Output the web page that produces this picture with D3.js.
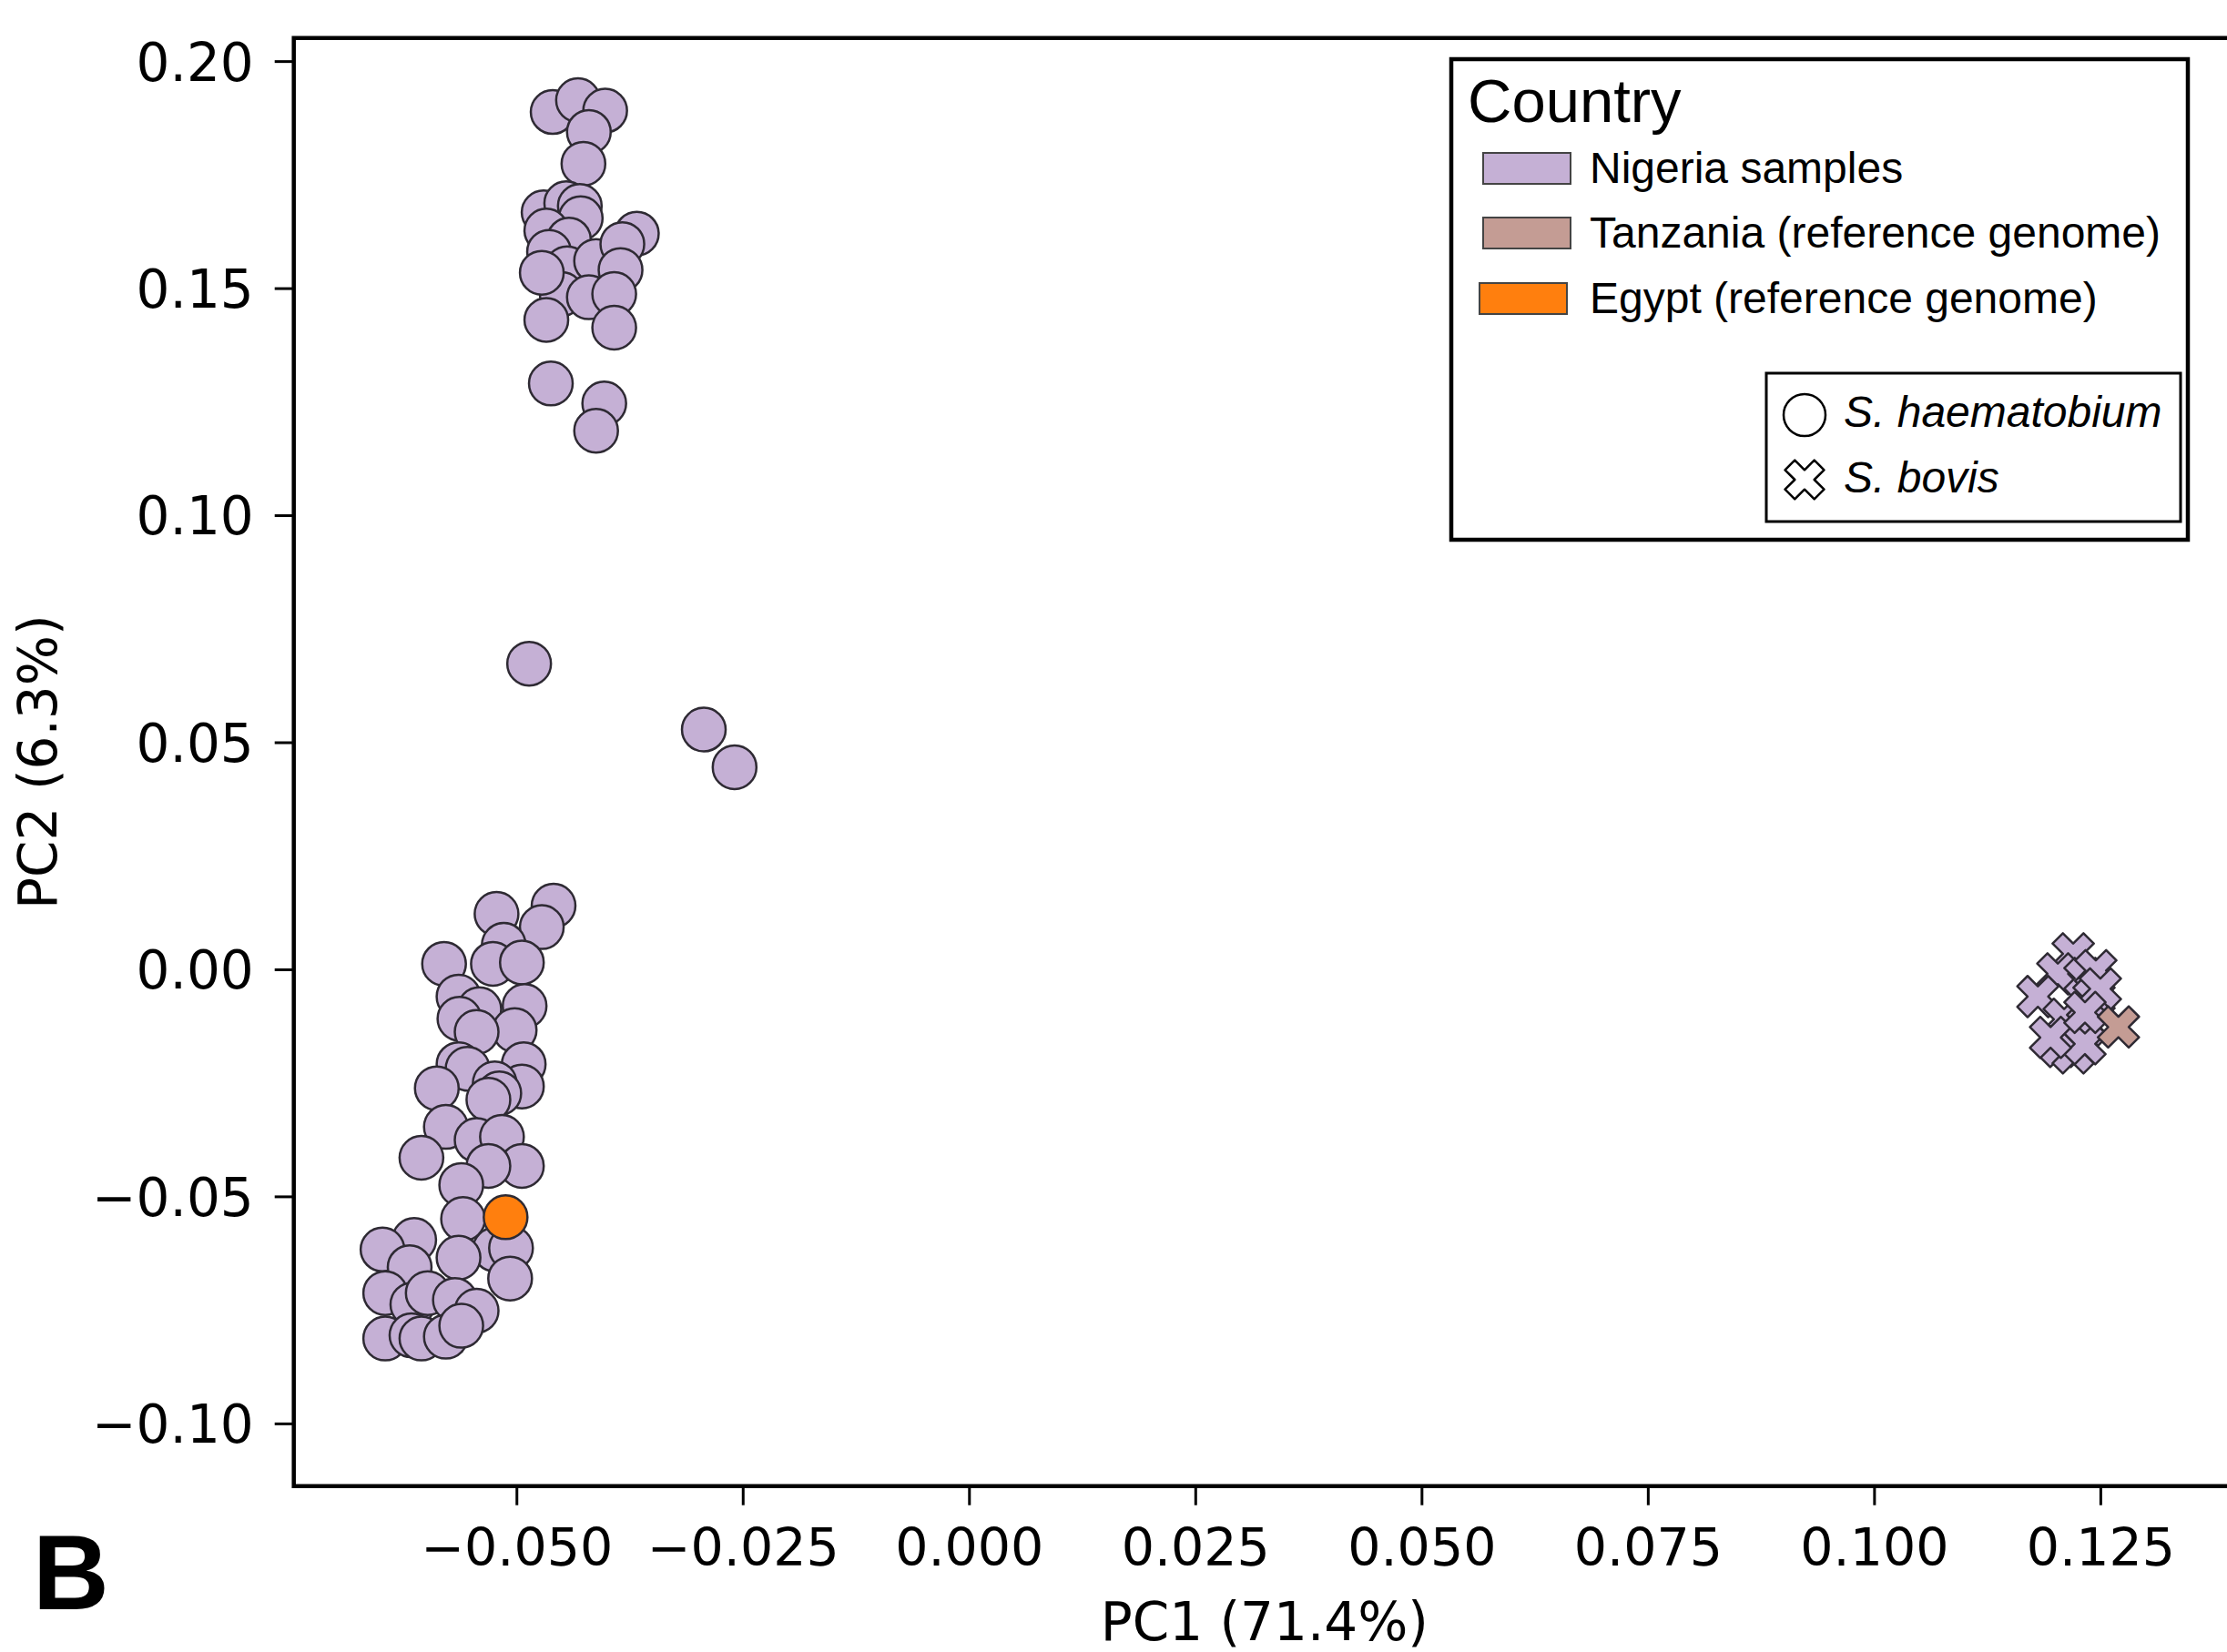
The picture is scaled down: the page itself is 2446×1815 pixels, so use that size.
<!DOCTYPE html>
<html>
<head>
<meta charset="utf-8">
<script src="https://cdn.jsdelivr.net/npm/d3@7"></script>
<style>
  html, body { margin: 0; padding: 0; background: #fff; }
  svg { display: block; }
</style>
</head>
<body>
<div id="chart"></div>
<script>
// PCA values
// Nigeria samples, S. haematobium (circles)
var nigeriaHaemPC1 = [
  -0.0460, -0.0432, -0.0402, -0.0420, -0.0426, -0.0470, -0.0445, -0.0430, -0.0429, -0.0467,
  -0.0442, -0.0464, -0.0444, -0.0412, -0.0367, -0.0383, -0.0385, -0.0450, -0.0420, -0.0392,
  -0.0467, -0.0392, -0.0462, -0.0403, -0.0412, -0.0472,
  -0.0486, -0.0293, -0.0259,
  -0.0459, -0.0472, -0.0522, -0.0514, -0.0526, -0.0494, -0.0580, -0.0564, -0.0541, -0.0563,
  -0.0491, -0.0502, -0.0544, -0.0564, -0.0554, -0.0492, -0.0494, -0.0524, -0.0588, -0.0519,
  -0.0531, -0.0578, -0.0544, -0.0516, -0.0605, -0.0494, -0.0531, -0.0561, -0.0559, -0.0524,
  -0.0506, -0.0564, -0.0507, -0.0613, -0.0648, -0.0618, -0.0645, -0.0615, -0.0598, -0.0568,
  -0.0544, -0.0645, -0.0616, -0.0605, -0.0578, -0.0561
];
var nigeriaHaemPC2 = [
  0.1888, 0.1914, 0.1891, 0.1844, 0.1774, 0.1667, 0.1687, 0.1681, 0.1654, 0.1627,
  0.1607, 0.1580, 0.1544, 0.1560, 0.1620, 0.1597, 0.1540, 0.1487, 0.1480, 0.1487,
  0.1430, 0.1413, 0.1290, 0.1246, 0.1186, 0.1534,
  0.0673, 0.0528, 0.0445,
  0.0140, 0.0093, 0.0122, 0.0054, 0.0012, 0.0015, 0.0012, -0.0060, -0.0088, -0.0109,
  -0.0081, -0.0134, -0.0138, -0.0209, -0.0219, -0.0209, -0.0258, -0.0251, -0.0262, -0.0273,
  -0.0287, -0.0347, -0.0376, -0.0369, -0.0415, -0.0433, -0.0433, -0.0475, -0.0550, -0.0617,
  -0.0614, -0.0635, -0.0681, -0.0596, -0.0617, -0.0656, -0.0713, -0.0738, -0.0713, -0.0728,
  -0.0752, -0.0813, -0.0806, -0.0813, -0.0809, -0.0785
];
// Nigeria samples, S. bovis (crosses)
var nigeriaBovisPC1 = [0.1220, 0.1203, 0.1181, 0.1233, 0.1245, 0.1243, 0.1210, 0.1236, 0.1206, 0.1220, 0.1233, 0.1195, 0.1250, 0.1233];
var nigeriaBovisPC2 = [0.0034, -0.0010, -0.0060, -0.0020, -0.0003, -0.0063, -0.0110, -0.0123, -0.0170, -0.0184, -0.0164, -0.0150, -0.0043, -0.0095];
// reference genomes
var tanzaniaPC1 = [0.1270];
var tanzaniaPC2 = [-0.0127];
var egyptPC1 = [-0.0512];
var egyptPC2 = [-0.0546];

var xTicks = [-0.050, -0.025, 0.000, 0.025, 0.050, 0.075, 0.100, 0.125];
var yTicks = [-0.10, -0.05, 0.00, 0.05, 0.10, 0.15, 0.20];

var countryNames = ["Nigeria samples", "Tanzania (reference genome)", "Egypt (reference genome)"];
var countryColors = ["#c5b0d5", "#c49c94", "#ff7f0e"];
var speciesNames = ["S. haematobium", "S. bovis"];

var width = 2446, height = 1815;
var plotLeft = 322.7, plotRight = 2455, plotTop = 41.7, plotBottom = 1632.7;

var svg = d3.select("#chart").append("svg")
    .attr("width", width)
    .attr("height", height);

var x = d3.scaleLinear().domain([-0.0746, 0.1399]).range([plotLeft, plotRight]);
var y = d3.scaleLinear().domain([-0.1138, 0.2051]).range([plotBottom, plotTop]);

var tickFont = "'DejaVu Sans', Verdana, sans-serif";
var legendFont = "'Liberation Sans', Arial, sans-serif";
var edge = "#2e2a33";

// points
var plot = svg.append("g");
var cross = d3.symbol(d3.symbolCross, 1280);

function circles(xs, ys, color) {
  plot.selectAll(null)
    .data(d3.zip(xs, ys))
    .enter().append("circle")
    .attr("cx", function(d) { return x(d[0]); })
    .attr("cy", function(d) { return y(d[1]); })
    .attr("r", 24)
    .attr("fill", color)
    .attr("stroke", edge)
    .attr("stroke-width", 2.5);
}
function crosses(xs, ys, color) {
  plot.selectAll(null)
    .data(d3.zip(xs, ys))
    .enter().append("path")
    .attr("d", cross)
    .attr("transform", function(d) { return "translate(" + x(d[0]) + "," + y(d[1]) + ") rotate(45)"; })
    .attr("fill", color)
    .attr("stroke", edge)
    .attr("stroke-width", 2.5)
    .attr("stroke-linejoin", "round");
}

circles(nigeriaHaemPC1, nigeriaHaemPC2, countryColors[0]);
crosses(nigeriaBovisPC1, nigeriaBovisPC2, countryColors[0]);
crosses(tanzaniaPC1, tanzaniaPC2, countryColors[1]);
circles(egyptPC1, egyptPC2, countryColors[2]);

// axes
var xAxis = svg.append("g")
    .attr("transform", "translate(0," + plotBottom + ")")
    .call(d3.axisBottom(x).tickValues(xTicks).tickFormat(d3.format(".3f")).tickSize(21).tickPadding(26));
var yAxis = svg.append("g")
    .attr("transform", "translate(" + plotLeft + ",0)")
    .call(d3.axisLeft(y).tickValues(yTicks).tickFormat(d3.format(".2f")).tickSize(21).tickPadding(23));

[xAxis, yAxis].forEach(function(a) {
  a.select(".domain").remove();
  a.selectAll(".tick line").attr("stroke", "#000").attr("stroke-width", 3);
  a.selectAll(".tick text")
    .attr("font-family", tickFont)
    .attr("font-size", 57)
    .attr("fill", "#000");
});
xAxis.selectAll(".tick text").attr("dy", "0.71em");
yAxis.selectAll(".tick text").attr("dy", "0.36em").attr("font-size", 58);

// frame (right side falls outside the picture)
svg.append("path")
    .attr("d", "M" + plotRight + "," + plotTop + "H" + plotLeft + "V" + plotBottom + "H" + plotRight)
    .attr("fill", "none")
    .attr("stroke", "#000")
    .attr("stroke-width", 4.5)
    .attr("stroke-linecap", "square");

// axis labels
svg.append("text")
    .attr("x", (plotLeft + plotRight) / 2)
    .attr("y", 1802)
    .attr("text-anchor", "middle")
    .attr("font-family", tickFont)
    .attr("font-size", 58)
    .text("PC1 (71.4%)");
svg.append("text")
    .attr("transform", "translate(62," + (plotTop + plotBottom) / 2 + ") rotate(-90)")
    .attr("text-anchor", "middle")
    .attr("font-family", tickFont)
    .attr("font-size", 58)
    .text("PC2 (6.3%)");

// panel letter
svg.append("text")
    .attr("x", 36)
    .attr("y", 1768)
    .attr("font-family", legendFont)
    .attr("font-weight", "bold")
    .attr("font-size", 116)
    .text("B");

// legend
var legend = svg.append("g");
legend.append("rect")
    .attr("x", 1594).attr("y", 65)
    .attr("width", 809).attr("height", 528)
    .attr("fill", "#fff")
    .attr("stroke", "#000")
    .attr("stroke-width", 4.5);
legend.append("text")
    .attr("x", 1612).attr("y", 134)
    .attr("font-family", legendFont)
    .attr("font-size", 67)
    .text("Country");

var patchX = [1629, 1629, 1625];
var rowY = [201, 272, 344];
countryNames.forEach(function(name, i) {
  legend.append("rect")
    .attr("x", patchX[i]).attr("y", rowY[i] - 33)
    .attr("width", 96).attr("height", 34)
    .attr("fill", countryColors[i])
    .attr("stroke", "#444")
    .attr("stroke-width", 2);
  legend.append("text")
    .attr("x", 1746).attr("y", rowY[i])
    .attr("font-family", legendFont)
    .attr("font-size", 48)
    .text(name);
});

legend.append("rect")
    .attr("x", 1940).attr("y", 410)
    .attr("width", 455).attr("height", 163)
    .attr("fill", "#fff")
    .attr("stroke", "#000")
    .attr("stroke-width", 3);
legend.append("circle")
    .attr("cx", 1982).attr("cy", 456)
    .attr("r", 23)
    .attr("fill", "#fff")
    .attr("stroke", "#000")
    .attr("stroke-width", 2.5);
legend.append("path")
    .attr("d", d3.symbol(d3.symbolCross, 1150))
    .attr("transform", "translate(1982,527) rotate(45)")
    .attr("fill", "#fff")
    .attr("stroke", "#000")
    .attr("stroke-width", 2.5)
    .attr("stroke-linejoin", "round");
var speciesY = [469, 541];
speciesNames.forEach(function(name, i) {
  legend.append("text")
    .attr("x", 2025).attr("y", speciesY[i])
    .attr("font-family", legendFont)
    .attr("font-style", "italic")
    .attr("font-size", 48)
    .text(name);
});
</script>
</body>
</html>
